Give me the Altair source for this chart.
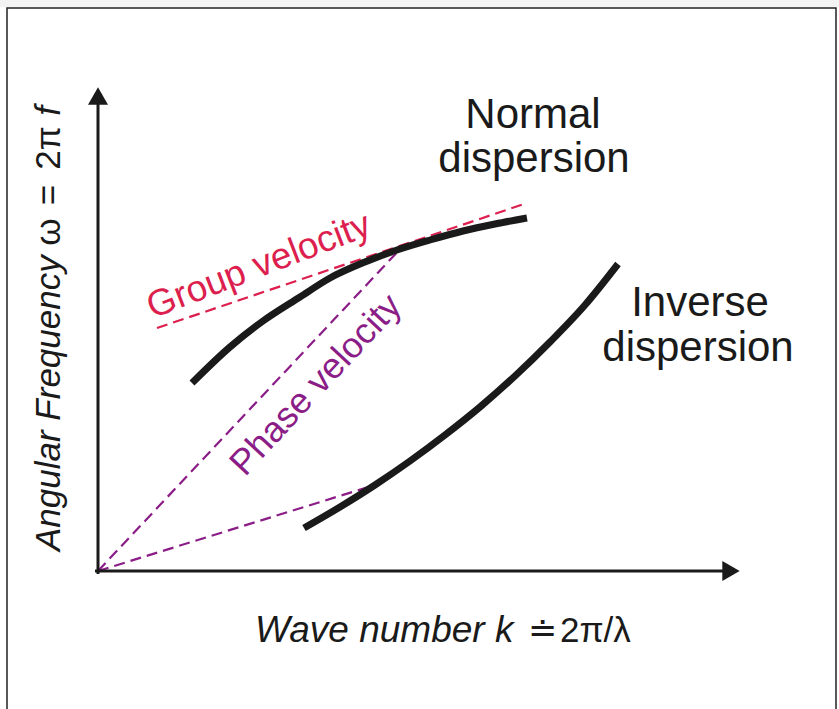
import altair as alt
import pandas as pd

# ---- data (wave number k, angular frequency omega; arbitrary units) ----
normal_k = [0.94, 1.32, 1.65, 2.02, 2.32, 2.67, 2.99, 3.32, 3.65, 3.97, 4.29]
normal_w = [1.88, 2.24, 2.50, 2.74, 2.93, 3.09, 3.21, 3.31, 3.40, 3.47, 3.53]

inverse_k = [2.06, 2.42, 2.77, 3.12, 3.47, 3.82, 4.17, 4.52, 4.87, 5.20]
inverse_w = [0.43, 0.64, 0.86, 1.10, 1.36, 1.64, 1.95, 2.29, 2.66, 3.07]

group_k = [0.59, 4.29]
group_w = [2.43, 3.68]

phase_hi_k = [0.0, 3.05]
phase_hi_w = [0.0, 3.25]
phase_lo_k = [0.0, 2.77]
phase_lo_w = [0.0, 0.86]

FONT = "Liberation Sans"
INK = "#1a1a1a"
RED = "#dc1f4e"
PURPLE = "#8b1d87"

X = alt.X("k:Q", scale=alt.Scale(domain=[-0.98, 7.41], nice=False, zero=False), axis=None)
Y = alt.Y("w:Q", scale=alt.Scale(domain=[-1.38, 5.71], nice=False, zero=False), axis=None)


def series(ks, ws):
    return pd.DataFrame({"k": ks, "w": ws, "i": list(range(len(ks)))})


def line(ks, ws, color, width, dash=None, cap="butt"):
    kw = dict(color=color, strokeWidth=width, strokeCap=cap, interpolate="monotone")
    if dash:
        kw["strokeDash"] = dash
    return alt.Chart(series(ks, ws)).mark_line(**kw).encode(x=X, y=Y, order="i:Q")


def label(text, k, w, size, color=INK, angle=0, align="center",
          baseline="alphabetic", style="normal"):
    df = pd.DataFrame({"k": [k], "w": [w], "t": [text]})
    return alt.Chart(df).mark_text(
        font=FONT, fontSize=size, color=color, angle=angle, align=align,
        baseline=baseline, fontStyle=style
    ).encode(x=X, y=Y, text="t:N")


one = pd.DataFrame({"a": [0]})
frame = alt.Chart(one).mark_rect(filled=False, stroke="#222222", strokeWidth=1.5).encode(
    x=alt.value(7), x2=alt.value(836), y=alt.value(8), y2=alt.value(740)
)
top_strip = alt.Chart(one).mark_rect(fill="#f3f3f3").encode(
    x=alt.value(0), x2=alt.value(839), y=alt.value(0), y2=alt.value(7)
)

# axes with arrowheads
y_axis = line([0.0, 0.0], [-0.015, 4.75], INK, 3, cap="square")
x_axis = line([-0.015, 6.33], [0.0, 0.0], INK, 3, cap="square")
heads = pd.DataFrame({"k": [0.0], "w": [4.75]})
head_up = alt.Chart(heads).mark_point(shape="triangle-up", filled=True, size=400,
                                      color=INK, opacity=1).encode(x=X, y=Y)
heads_r = pd.DataFrame({"k": [6.33], "w": [0.0]})
head_right = alt.Chart(heads_r).mark_point(shape="triangle-right", filled=True, size=400,
                                           color=INK, opacity=1).encode(x=X, y=Y)

DASH = [11, 6]

layers = [
    top_strip, frame,
    line(phase_hi_k, phase_hi_w, PURPLE, 2.2, dash=DASH),
    line(phase_lo_k, phase_lo_w, PURPLE, 2.2, dash=DASH),
    line(group_k, group_w, RED, 2.2, dash=DASH),
    line(normal_k, normal_w, INK, 7),
    line(inverse_k, inverse_w, INK, 7),
    y_axis, x_axis, head_up, head_right,
    label("Normal", 4.35, 4.43, 42),
    label("dispersion", 4.36, 3.99, 42),
    label("Inverse", 6.02, 2.55, 42),
    label("dispersion", 6.00, 2.10, 42),
    label("Group velocity", 1.61, 3.05, 37, color=RED, angle=339, baseline="middle"),
    label("Phase velocity", 2.18, 1.86, 36, color=PURPLE, angle=313, baseline="middle"),
    # y title
    label("Angular Frequency", -0.38, 0.20, 35, angle=270, align="left", style="italic"),
    label("\u03c9", -0.38, 3.39, 35, angle=270),
    label("=", -0.38, 3.76, 35, angle=270),
    label("2\u03c0", -0.38, 4.23, 35, angle=270),
    label("f", -0.38, 4.60, 35, angle=270, style="italic"),
    # x title
    label("Wave number k", 1.57, -0.71, 37, align="left", style="italic"),
    label("\u2250", 4.44, -0.71, 35),
    label("2\u03c0/\u03bb", 4.62, -0.71, 35, align="left"),
]

chart = alt.layer(*layers).properties(
    width=839, height=709, padding=0,
    autosize=alt.AutoSizeParams(type="none"),
    background="white",
).configure_view(strokeWidth=0)

chart.save("out.html", embed_options={"renderer": "svg", "actions": False})
